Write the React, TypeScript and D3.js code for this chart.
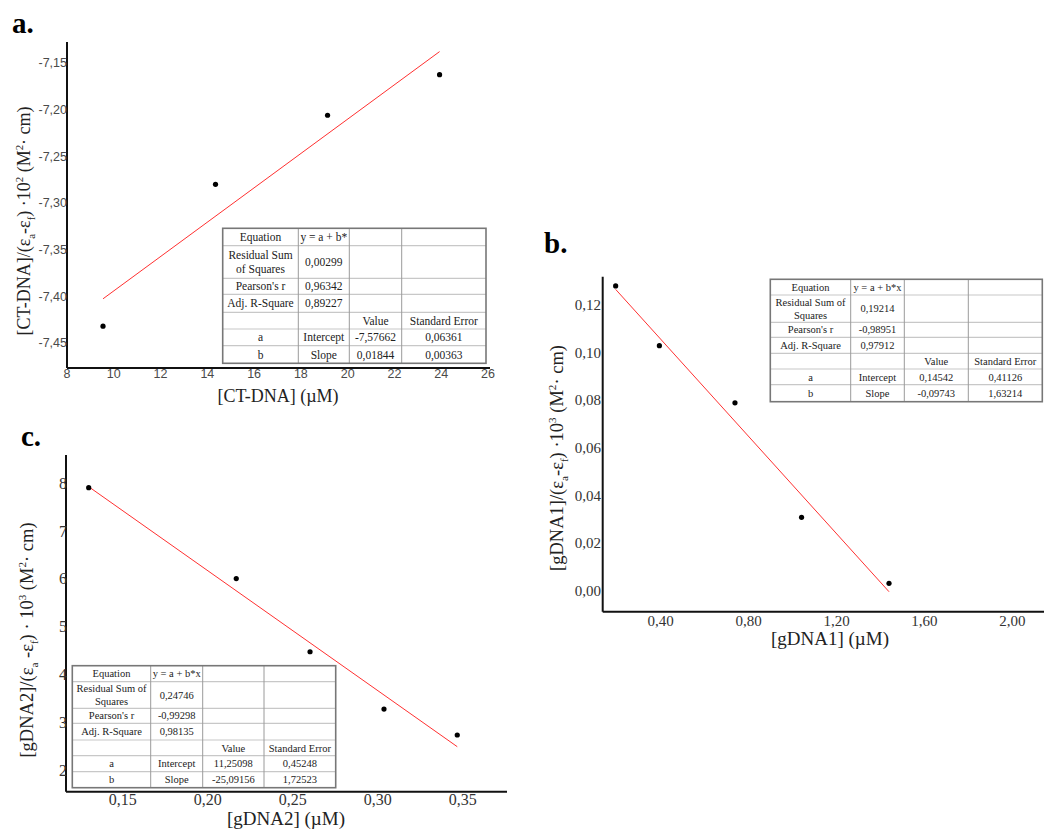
import React from 'react';
import * as d3 from 'd3';

// ---------- Panel a data ----------
const aX = [9.54, 14.35, 19.14, 23.93];
const aY = [-7.432, -7.28, -7.206, -7.1625];
const aXTicks = [8, 10, 12, 14, 16, 18, 20, 22, 24, 26];
const aYTicks = [-7.45, -7.4, -7.35, -7.3, -7.25, -7.2, -7.15];
const aStats = ['y = a + b*', '0,00299', '0,96342', '0,89227'];
const aParams = [['-7,57662', '0,06361'], ['0,01844', '0,00363']];
const aRss = ['Residual Sum', 'of Squares'];

// ---------- Panel b data ----------
const bX = [0.195, 0.394, 0.738, 1.041, 1.439];
const bY = [0.128, 0.1029, 0.0789, 0.0308, 0.0031];
const bXTicks = [0.4, 0.8, 1.2, 1.6, 2.0];
const bYTicks = [0, 0.02, 0.04, 0.06, 0.08, 0.1, 0.12];
const bStats = ['y = a + b*x', '0,19214', '-0,98951', '0,97912'];
const bParams = [['0,14542', '0,41126'], ['-0,09743', '1,63214']];
const bRss = ['Residual Sum of', 'Squares'];

// ---------- Panel c data ----------
const cX = [0.13, 0.2168, 0.2602, 0.3037, 0.3468];
const cY = [7.908, 6.006, 4.475, 3.276, 2.732];
const cXTicks = [0.15, 0.2, 0.25, 0.3, 0.35];
const cYTicks = [2, 3, 4, 5, 6, 7, 8];
const cStats = ['y = a + b*x', '0,24746', '-0,99298', '0,98135'];
const cParams = [['11,25098', '0,45248'], ['-25,09156', '1,72523']];
const cRss = ['Residual Sum of', 'Squares'];

const rowLabels = ['Equation', "Pearson's r", 'Adj. R-Square'];
const paramNames = [['a', 'Intercept'], ['b', 'Slope']];
const colHeads = ['Value', 'Standard Error'];

const SERIF = '"Liberation Serif", "DejaVu Serif", serif';
const SANS = '"Liberation Sans", Arial, sans-serif';

function fitLine(xs: number[], ys: number[]) {
  const mx = d3.mean(xs)!;
  const my = d3.mean(ys)!;
  let sxy = 0, sxx = 0;
  xs.forEach((x, i) => { sxy += (x - mx) * (ys[i] - my); sxx += (x - mx) * (x - mx); });
  const b = sxy / sxx;
  const a = my - b * mx;
  const [x0, x1] = d3.extent(xs) as [number, number];
  return [[x0, a + b * x0], [x1, a + b * x1]];
}

const fmtComma = (digits: number) => (v: number) => v.toFixed(digits).replace('.', ',');

type PanelCfg = {
  xs: number[]; ys: number[];
  xTicks: number[]; yTicks: number[];
  xFmt: (v: number) => string; yFmt: (v: number) => string;
  xDom: [number, number]; xRange: [number, number];
  yDom: [number, number]; yRange: [number, number];
  axisX: [number, number]; axisY: [number, number];
  tickFont: string; tickSize: number; tickColor: string;
  xTickBaseline: number; yTickRight: number;
  xTitle: string; xTitleX: number; xTitleY: number; xTitleSize: number;
  yTitleMain: string; yTitlePow: string; yTitleX: number; yTitleY: number;
  titleSize: number; tight: boolean;
  label: string; labelX: number; labelY: number;
  stats: string[]; params: string[][]; rss: string[];
  cols: number[]; rows: number[]; tableFont: number;
};

function Panel({ p }: { p: PanelCfg }) {
  const x = d3.scaleLinear().domain(p.xDom).range(p.xRange);
  const y = d3.scaleLinear().domain(p.yDom).range(p.yRange);
  const line = d3.line<number[]>().x(d => x(d[0])).y(d => y(d[1]));
  const fit = fitLine(p.xs, p.ys);
  const [c0, c1, c2, c3, c4] = p.cols;
  const r = p.rows;
  const cx = (i: number) => (p.cols[i] + p.cols[i + 1]) / 2;
  const cy = (i: number) => (r[i] + r[i + 1]) / 2;
  const tf = p.tableFont;
  const ts = p.titleSize;
  const cell = (txt: string, col: number, row: number, key: string) => (
    <text key={key} x={cx(col)} y={cy(row)} dy="0.35em" textAnchor="middle" fontSize={tf} fontFamily={SERIF} fill="#222">{txt}</text>
  );
  return (
    <g>
      <text x={p.labelX} y={p.labelY} fontFamily={SERIF} fontWeight="bold" fontSize={29} fill="#000">{p.label}</text>
      <path d={line(fit)!} stroke="#ff3030" strokeWidth={1} fill="none" />
      {p.xs.map((v, i) => (
        <circle key={i} cx={x(v)} cy={y(p.ys[i])} r={2.6} fill="#000" />
      ))}
      <line x1={p.axisX[0]} x2={p.axisX[1]} y1={p.axisY[1]} y2={p.axisY[1]} stroke="#111" strokeWidth={2} />
      <line x1={p.axisX[0]} x2={p.axisX[0]} y1={p.axisY[0]} y2={p.axisY[1]} stroke="#111" strokeWidth={2} />
      {p.xTicks.map((t, i) => (
        <text key={'xt' + i} x={x(t)} y={p.xTickBaseline} textAnchor="middle" fontFamily={p.tickFont} fontSize={p.tickSize} fill={p.tickColor}>{p.xFmt(t)}</text>
      ))}
      {p.yTicks.map((t, i) => (
        <text key={'yt' + i} x={p.yTickRight} y={y(t)} dy="0.35em" textAnchor="end" fontFamily={p.tickFont} fontSize={p.tickSize} fill={p.tickColor}>{p.yFmt(t)}</text>
      ))}
      <text x={p.xTitleX} y={p.xTitleY} textAnchor="middle" fontFamily={SERIF} fontSize={p.xTitleSize} fill="#222">{p.xTitle}</text>
      <text transform={`translate(${p.yTitleX},${p.yTitleY}) rotate(-90)`} textAnchor="middle" dy="0.35em" fontFamily={SERIF} fontSize={ts} fill="#222">
        <tspan>{p.yTitleMain}/(ε</tspan>
        <tspan fontSize={ts * 0.6} dy={ts * 0.25}>a</tspan>
        <tspan dy={-ts * 0.25}>{p.tight ? '-ε' : ' -ε'}</tspan>
        <tspan fontSize={ts * 0.6} dy={ts * 0.25}>f</tspan>
        <tspan dy={-ts * 0.25}>{p.tight ? ') ·10' : ') · 10'}</tspan>
        <tspan fontSize={ts * 0.6} dy={-ts * 0.4}>{p.yTitlePow}</tspan>
        <tspan dy={ts * 0.4}> (M</tspan>
        <tspan fontSize={ts * 0.6} dy={-ts * 0.4}>2</tspan>
        <tspan dy={ts * 0.4}>· cm)</tspan>
      </text>
      <g>
        <rect x={c0} y={r[0]} width={c4 - c0} height={r[7] - r[0]} fill="#fff" />
        {r.slice(1, 7).map((ry, i) => (
          <line key={'hr' + i} x1={c0} x2={c4} y1={ry} y2={ry} stroke="#c8c8c8" strokeWidth={1.2} />
        ))}
        {[c1, c2, c3].map((vx, i) => (
          <line key={'vc' + i} x1={vx} x2={vx} y1={r[0]} y2={r[7]} stroke="#9a9a9a" strokeWidth={1} />
        ))}
        <rect x={c0} y={r[0]} width={c4 - c0} height={r[7] - r[0]} fill="none" stroke="#777" strokeWidth={1.6} />
        {cell(rowLabels[0], 0, 0, 'l0')}
        <text x={cx(0)} y={cy(1) - tf * 0.62} dy="0.35em" textAnchor="middle" fontSize={tf} fontFamily={SERIF} fill="#222">{p.rss[0]}</text>
        <text x={cx(0)} y={cy(1) + tf * 0.62} dy="0.35em" textAnchor="middle" fontSize={tf} fontFamily={SERIF} fill="#222">{p.rss[1]}</text>
        {cell(rowLabels[1], 0, 2, 'l2')}
        {cell(rowLabels[2], 0, 3, 'l3')}
        {p.stats.map((s, i) => cell(s, 1, i, 's' + i))}
        {cell(colHeads[0], 2, 4, 'h0')}
        {cell(colHeads[1], 3, 4, 'h1')}
        {paramNames.map((pn, i) => (
          <g key={'pn' + i}>
            {cell(pn[0], 0, 5 + i, 'pa' + i)}
            {cell(pn[1], 1, 5 + i, 'pb' + i)}
            {cell(p.params[i][0], 2, 5 + i, 'pc' + i)}
            {cell(p.params[i][1], 3, 5 + i, 'pd' + i)}
          </g>
        ))}
      </g>
    </g>
  );
}

const panels: PanelCfg[] = [
  {
    xs: aX, ys: aY, xTicks: aXTicks, yTicks: aYTicks,
    xFmt: (v) => String(v), yFmt: fmtComma(2),
    xDom: [8, 26], xRange: [67, 488], yDom: [-7.45, -7.15], yRange: [343, 63],
    axisX: [67, 490], axisY: [42, 368],
    tickFont: SANS, tickSize: 12.5, tickColor: '#4a4a4a',
    xTickBaseline: 378, yTickRight: 67,
    xTitle: '[CT-DNA] (µM)', xTitleX: 278, xTitleY: 402, xTitleSize: 18,
    yTitleMain: '[CT-DNA]', yTitlePow: '2', yTitleX: 24, yTitleY: 221, titleSize: 18, tight: true,
    label: 'a.', labelX: 12, labelY: 33,
    stats: aStats, params: aParams, rss: aRss,
    cols: [222.7, 298.3, 349.3, 401.7, 486], rows: [228.3, 245.7, 278.3, 294.3, 312.3, 329, 345.7, 363.3], tableFont: 11.5,
  },
  {
    xs: bX, ys: bY, xTicks: bXTicks, yTicks: bYTicks,
    xFmt: fmtComma(2), yFmt: fmtComma(2),
    xDom: [0.4, 2.0], xRange: [660.7, 1012.3], yDom: [0, 0.12], yRange: [590.7, 305],
    axisX: [602.7, 1044], axisY: [276.7, 611.7],
    tickFont: SERIF, tickSize: 15, tickColor: '#333',
    xTickBaseline: 626, yTickRight: 601,
    xTitle: '[gDNA1] (µM)', xTitleX: 830, xTitleY: 645, xTitleSize: 19,
    yTitleMain: '[gDNA1]', yTitlePow: '3', yTitleX: 557, yTitleY: 458, titleSize: 18.5, tight: true,
    label: 'b.', labelX: 544, labelY: 253,
    stats: bStats, params: bParams, rss: bRss,
    cols: [770.3, 850.7, 904.3, 968.3, 1042.3], rows: [279.3, 295, 322.3, 337.3, 353.3, 369, 384.7, 401.7], tableFont: 10.5,
  },
  {
    xs: cX, ys: cY, xTicks: cXTicks, yTicks: cYTicks,
    xFmt: fmtComma(2), yFmt: (v) => String(v),
    xDom: [0.15, 0.35], xRange: [122.7, 462.7], yDom: [2, 8], yRange: [770, 483.3],
    axisX: [66, 507], axisY: [455, 791.7],
    tickFont: SERIF, tickSize: 16, tickColor: '#333',
    xTickBaseline: 805, yTickRight: 67,
    xTitle: '[gDNA2] (µM)', xTitleX: 286, xTitleY: 825, xTitleSize: 19,
    yTitleMain: '[gDNA2]', yTitlePow: '3', yTitleX: 27, yTitleY: 640, titleSize: 18.5, tight: false,
    label: 'c.', labelX: 21, labelY: 446,
    stats: cStats, params: cParams, rss: cRss,
    cols: [72.3, 150.7, 202.7, 264, 335.7], rows: [665.7, 681.7, 708.3, 723.3, 740, 755.7, 771.7, 787.7], tableFont: 10.5,
  },
];

export default function App() {
  return (
    <svg width={1044} height={830} style={{ position: 'absolute', left: 0, top: 0, background: '#fff' }}>
      <rect width={1044} height={830} fill="#fff" />
      {panels.map((p, i) => <Panel key={i} p={p} />)}
    </svg>
  );
}
